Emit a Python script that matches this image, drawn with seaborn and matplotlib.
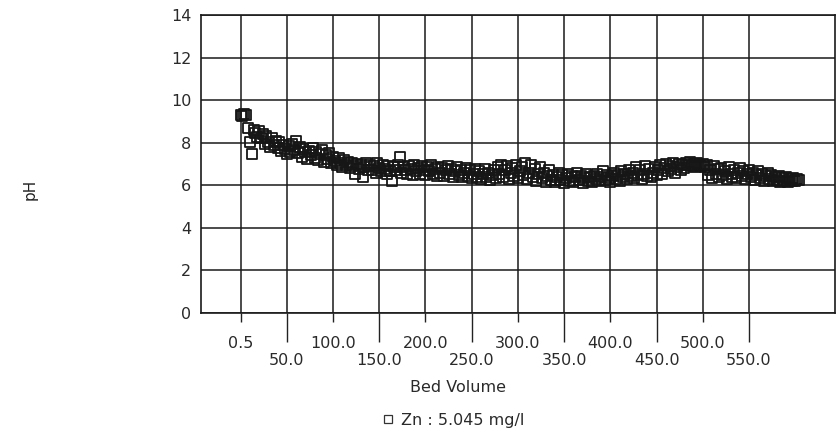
import matplotlib
matplotlib.use("Agg")
import matplotlib.pyplot as plt
import seaborn as sns
import pandas as pd

# Bed volume passed through the column and effluent pH
bed_volume = [
    0.5, 2, 4, 6, 8, 10, 12, 14, 16, 18,
    20, 22, 24, 26, 28, 30, 32, 34, 36, 38,
    40, 42, 44, 46, 48, 50, 52, 54, 56, 58,
    60, 62, 64, 66, 68, 70, 72, 74, 76, 78,
    80, 82, 84, 86, 88, 90, 92, 94, 96, 98,
    100, 102, 104, 106, 108, 110, 112, 114, 116, 118,
    120, 122, 124, 126, 128, 130, 132, 134, 136, 138,
    140, 142, 144, 146, 148, 150, 152, 154, 156, 158,
    160, 162, 164, 166, 168, 170, 172, 174, 176, 178,
    180, 182, 184, 186, 188, 190, 192, 194, 196, 198,
    200, 202, 204, 206, 208, 210, 212, 214, 216, 218,
    220, 222, 224, 226, 228, 230, 232, 234, 236, 238,
    240, 242, 244, 246, 248, 250, 252, 254, 256, 258,
    260, 262, 264, 266, 268, 270, 272, 274, 276, 278,
    280, 282, 284, 286, 288, 290, 292, 294, 296, 298,
    300, 302, 304, 306, 308, 310, 312, 314, 316, 318,
    320, 322, 324, 326, 328, 330, 332, 334, 336, 338,
    340, 342, 344, 346, 348, 350, 352, 354, 356, 358,
    360, 362, 364, 366, 368, 370, 372, 374, 376, 378,
    380, 382, 384, 386, 388, 390, 392, 394, 396, 398,
    400, 402, 404, 406, 408, 410, 412, 414, 416, 418,
    420, 422, 424, 426, 428, 430, 432, 434, 436, 438,
    440, 442, 444, 446, 448, 450, 452, 454, 456, 458,
    460, 462, 464, 466, 468, 470, 472, 474, 476, 478,
    480, 482, 484, 486, 488, 490, 492, 494, 496, 498,
    500, 502, 504, 506, 508, 510, 512, 514, 516, 518,
    520, 522, 524, 526, 528, 530, 532, 534, 536, 538,
    540, 542, 544, 546, 548, 550, 552, 554, 556, 558,
    560, 562, 564, 566, 568, 570, 572, 574, 576, 578,
    580, 582, 584, 586, 588, 590, 592, 594, 596, 598,
    600, 602, 604,
]
ph = [
    9.30, 9.25, 9.35, 9.30, 8.70, 8.05, 7.45, 8.60, 8.45, 8.25,
    8.55, 8.20, 8.40, 7.95, 8.30, 8.05, 7.80, 8.20, 7.90, 8.10,
    7.75, 8.05, 7.60, 7.90, 7.70, 7.45, 7.85, 7.55, 7.95, 7.65,
    8.10, 7.50, 7.80, 7.35, 7.70, 7.55, 7.25, 7.60, 7.40, 7.75,
    7.30, 7.55, 7.20, 7.45, 7.65, 7.10, 7.40, 7.25, 7.50, 7.05,
    7.35, 7.15, 6.95, 7.30, 7.05, 6.85, 7.20, 6.95, 7.10, 6.80,
    7.05, 6.90, 6.55, 7.00, 6.75, 6.95, 6.40, 6.85, 7.05, 6.70,
    6.95, 6.70, 6.90, 6.60, 7.05, 6.80, 6.65, 6.95, 6.75, 6.55,
    6.90, 6.65, 6.20, 6.85, 6.70, 6.95, 7.35, 6.60, 6.85, 6.70,
    6.55, 6.90, 6.75, 6.50, 6.95, 6.65, 6.80, 6.55, 6.90, 6.70,
    6.50, 6.85, 6.65, 6.95, 6.55, 6.75, 6.45, 6.85, 6.60, 6.80,
    6.45, 6.70, 6.90, 6.55, 6.75, 6.40, 6.65, 6.85, 6.50, 6.70,
    6.40, 6.60, 6.80, 6.45, 6.70, 6.35, 6.55, 6.75, 6.40, 6.65,
    6.30, 6.55, 6.75, 6.40, 6.60, 6.25, 6.50, 6.70, 6.35, 6.85,
    6.55, 6.95, 6.40, 6.70, 6.90, 6.30, 6.60, 6.80, 6.45, 6.95,
    6.35, 6.65, 6.85, 6.50, 7.05, 6.30, 6.60, 6.95, 6.40, 6.75,
    6.20, 6.55, 6.85, 6.35, 6.60, 6.15, 6.45, 6.70, 6.25, 6.50,
    6.15, 6.40, 6.60, 6.25, 6.50, 6.10, 6.35, 6.55, 6.20, 6.45,
    6.15, 6.40, 6.60, 6.25, 6.45, 6.10, 6.35, 6.55, 6.20, 6.40,
    6.15, 6.45, 6.30, 6.55, 6.20, 6.40, 6.65, 6.25, 6.50, 6.35,
    6.15, 6.45, 6.60, 6.30, 6.50, 6.20, 6.65, 6.40, 6.55, 6.30,
    6.70, 6.45, 6.60, 6.35, 6.85, 6.50, 6.70, 6.30, 6.55, 6.90,
    6.45, 6.75, 6.40, 6.60, 6.85, 6.50, 6.70, 6.95, 6.55, 6.80,
    7.00, 6.65, 6.90, 6.75, 7.05, 6.60, 6.85, 7.00, 6.70, 6.95,
    6.80, 7.05, 6.95, 7.10, 6.90, 7.00, 6.85, 7.05, 6.95, 6.90,
    7.00, 6.85, 6.95, 6.50, 6.70, 6.35, 6.90, 6.55, 6.75, 6.40,
    6.80, 6.50, 6.65, 6.30, 6.85, 6.55, 6.40, 6.70, 6.35, 6.60,
    6.80, 6.45, 6.65, 6.30, 6.55, 6.70, 6.40, 6.60, 6.25, 6.50,
    6.65, 6.35, 6.55, 6.20, 6.45, 6.60, 6.30, 6.50, 6.20, 6.40,
    6.25, 6.45, 6.15, 6.35, 6.20, 6.40, 6.15, 6.30, 6.20, 6.35,
    6.20, 6.30, 6.25,
]

row1_ticks = [0.5, 100, 200, 300, 400, 500]
row1_labels = ["0.5", "100.0", "200.0", "300.0", "400.0", "500.0"]
row2_ticks = [50, 150, 250, 350, 450, 550]
row2_labels = ["50.0", "150.0", "250.0", "350.0", "450.0", "550.0"]
y_ticks = [0, 2, 4, 6, 8, 10, 12, 14]
series_label = "Zn : 5.045 mg/l"

df = pd.DataFrame({"Bed Volume": bed_volume, "pH": ph})

sns.set_theme(style="white")
plt.rcParams["font.family"] = ["DejaVu Sans"]

fig = plt.figure(figsize=(8.4, 4.47), dpi=100)
ax = fig.add_axes([201 / 840, 1 - 313 / 447, (835 - 201) / 840, (313 - 15) / 447])

sns.scatterplot(
    data=df, x="Bed Volume", y="pH", ax=ax,
    marker="s", s=52, facecolors="none", edgecolor="#161616", linewidth=1.3,
    label=series_label, legend=False,
)

ax.set_xlim(-42.8, 643)
ax.set_ylim(0, 14)
ax.set_yticks(y_ticks)
ax.set_yticklabels([str(v) for v in y_ticks])

ax.set_xticks(row1_ticks)
ax.set_xticklabels(row1_labels)
ax.set_xticks(row2_ticks, minor=True)
ax.set_xticklabels(row2_labels, minor=True)

ax.tick_params(axis="x", which="major", direction="out", length=6.5, width=1.0,
               color="#222222", pad=10, labelsize=11.5, labelcolor="#2a2a2a", bottom=True)
ax.tick_params(axis="x", which="minor", direction="out", length=21, width=1.0,
               color="#222222", pad=8, labelsize=11.5, labelcolor="#2a2a2a", bottom=True)
ax.tick_params(axis="y", length=0, pad=7, labelsize=11.5, labelcolor="#2a2a2a")

ax.grid(True, which="both", axis="x", color="#1a1a1a", linewidth=1.1)
ax.grid(True, which="major", axis="y", color="#1a1a1a", linewidth=1.1)
ax.set_axisbelow(True)
for sp in ax.spines.values():
    sp.set_visible(True)
    sp.set_color("#1a1a1a")
    sp.set_linewidth(1.2)

ax.set_xlabel("")
ax.set_ylabel("")
fig.text(458 / 840, 1 - 387 / 447, "Bed Volume", ha="center", va="center",
         fontsize=11.5, color="#2a2a2a")
fig.text(30 / 840, 1 - 189 / 447, "pH", ha="center", va="center", rotation=90,
         fontsize=11, color="#222222")

handle = plt.Line2D([], [], marker="s", linestyle="none", markersize=6,
                    markerfacecolor="none", markeredgecolor="#333333", markeredgewidth=0.9)
fig.legend([handle], [series_label], loc="center", bbox_to_anchor=(452 / 840, 1 - 420 / 447),
           frameon=False, fontsize=11.5, handletextpad=0.3, handlelength=1.0,
           labelcolor="#2a2a2a")

fig.savefig("out.png", dpi=100, facecolor="white")
